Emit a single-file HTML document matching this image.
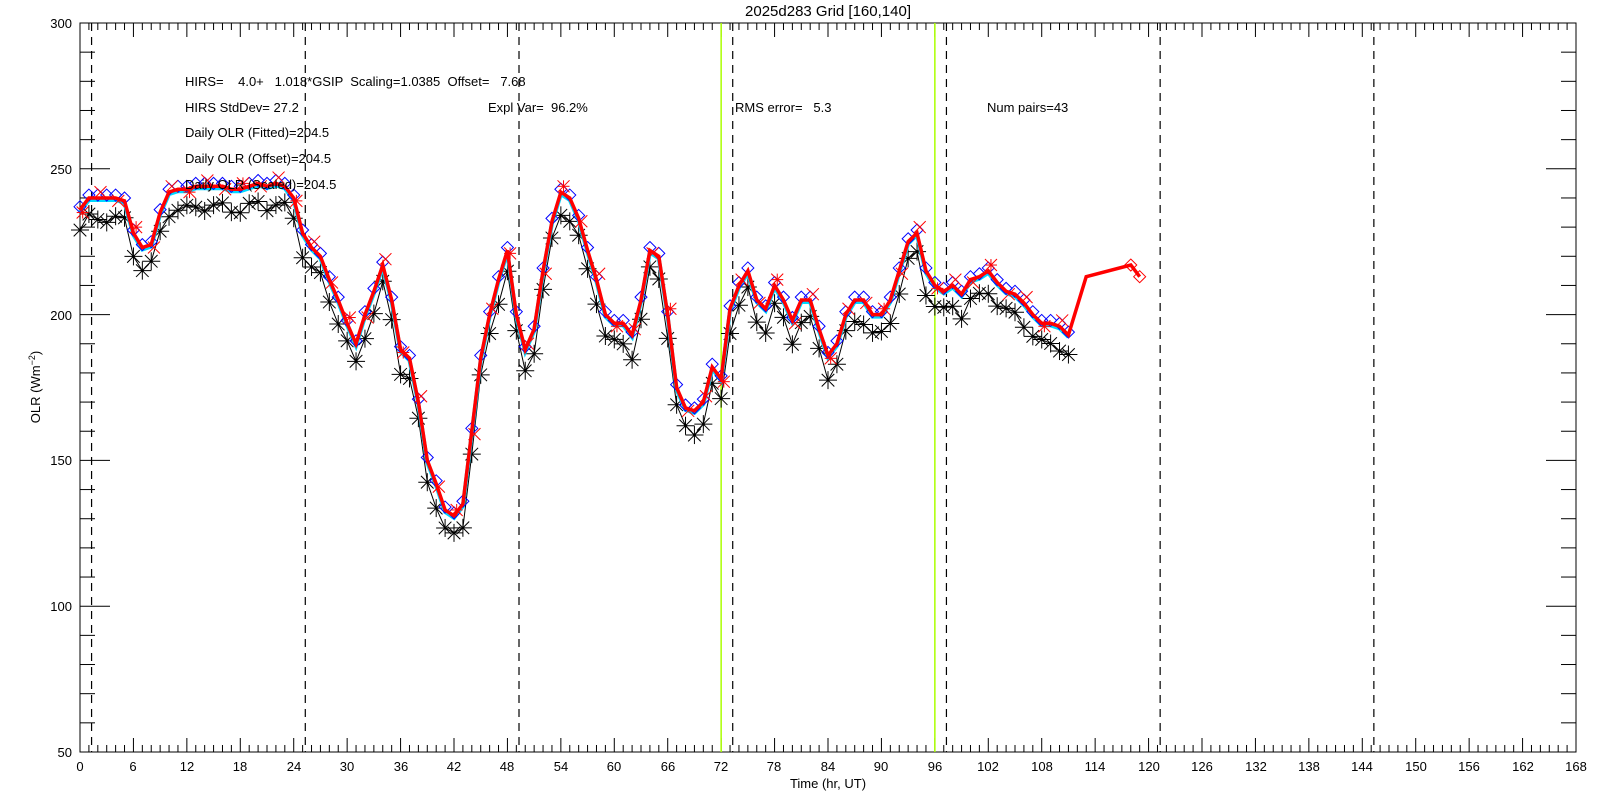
<!DOCTYPE html>
<html><head><meta charset="utf-8"><style>
body{margin:0;background:#fff}
svg{display:block}
text{font-family:"Liberation Sans",sans-serif;font-size:13px;fill:#000;white-space:pre}
</style></head><body>
<svg id="s" width="1600" height="800" viewBox="0 0 1600 800" xmlns="http://www.w3.org/2000/svg" xml:space="preserve">
<rect width="1600" height="800" fill="#fff"/>
<g id="g"></g>
<text x="828" y="16" text-anchor="middle" style="font-size:15px">2025d283 Grid [160,140]</text>
<text x="185" y="86">HIRS=    4.0+   1.018*GSIP  Scaling=1.0385  Offset=   7.68</text>
<text x="185" y="112">HIRS StdDev= 27.2</text>
<text x="488" y="112">Expl Var=  96.2%</text>
<text x="735" y="112">RMS error=   5.3</text>
<text x="987" y="112">Num pairs=43</text>
<text x="185" y="137">Daily OLR (Fitted)=204.5</text>
<text x="185" y="163">Daily OLR (Offset)=204.5</text>
<text x="185" y="189">Daily OLR (Scaled)=204.5</text>
<g text-anchor="end">
<text x="72" y="28">300</text><text x="72" y="174">250</text><text x="72" y="320">200</text>
<text x="72" y="465">150</text><text x="72" y="611">100</text><text x="72" y="757">50</text>
</g>
<g text-anchor="middle">
<text x="80" y="771">0</text><text x="133" y="771">6</text><text x="187" y="771">12</text><text x="240" y="771">18</text><text x="294" y="771">24</text><text x="347" y="771">30</text><text x="401" y="771">36</text><text x="454" y="771">42</text><text x="507" y="771">48</text><text x="561" y="771">54</text><text x="614" y="771">60</text><text x="668" y="771">66</text><text x="721" y="771">72</text><text x="774" y="771">78</text><text x="828" y="771">84</text><text x="881" y="771">90</text><text x="935" y="771">96</text><text x="988" y="771">102</text><text x="1042" y="771">108</text><text x="1095" y="771">114</text><text x="1149" y="771">120</text><text x="1202" y="771">126</text><text x="1256" y="771">132</text><text x="1309" y="771">138</text><text x="1362" y="771">144</text><text x="1416" y="771">150</text><text x="1469" y="771">156</text><text x="1523" y="771">162</text><text x="1576" y="771">168</text>
<text x="828" y="788">Time (hr, UT)</text>
</g>
<text transform="translate(40,387) rotate(-90)" text-anchor="middle">OLR (Wm<tspan dy="-5" style="font-size:9px">−2</tspan><tspan dy="5">)</tspan></text>
</svg>
<script>
const L=80,R=1576,T=23,B=752;
const X=h=>L+h*(R-L)/168, Y=v=>B-(v-50)*(B-T)/250;
let s='';
const ln=(a,b,c,d,col,w,da)=>{s+=`<line x1="${a}" y1="${b}" x2="${c}" y2="${d}" stroke="${col}" stroke-width="${w||1}"${da?` stroke-dasharray="${da}"`:''}/>`;};
for(let h=0;h<=168;h++){const x=X(h),len=h%6==0?14:7;ln(x,B,x,B-len,'#000');ln(x,T,x,T+len,'#000');}
for(let v=50;v<=300;v+=10){const y=Y(v),len=v%50==0?30:15;ln(L,y,L+len,y,'#000');ln(R,y,R-len,y,'#000');}
s+=`<rect x="${L}" y="${T}" width="${R-L}" height="${B-T}" fill="none" stroke="#000"/>`;
for(let k=0;k<7;k++){const x=X(1.3+24*k);ln(x,T,x,B,'#000',1.2,'8,6');}
ln(X(72),T,X(72),B,'#aaff00',1.5);ln(X(96),T,X(96),B,'#aaff00',1.5);
const red=[236,240,240,240,240,239,228,223,224,235,242,243,243,244,244,244,244,243,243,244,245,244,245,244,240,228,223,220,212,205,197,190,200,208,217,205,188,185,170,150,142,133,131,135,160,185,200,212,222,200,188,195,215,232,242,240,233,222,212,200,197,197,193,205,222,220,200,175,168,167,170,182,178,202,210,215,205,202,210,205,198,205,205,195,186,190,200,205,205,200,200,205,215,225,228,215,210,208,210,207,212,213,215,211,208,207,204,200,197,197,196,193];
const pts=red.map((v,i)=>[i,v]);
const ext=[[112,195],[113,213],[118,217],[119,213]];
const path=(p,dy)=>p.map(q=>X(q[0]).toFixed(1)+','+(Y(q[1])+dy).toFixed(1)).join(' ');
const blk=pts.map(q=>[q[0],q[1]-7+Math.sin(q[0]*1.7)*1.5]);
s+=`<polyline points="${path(blk,0)}" fill="none" stroke="#000" stroke-width="1"/>`;
blk.forEach((q,i)=>{const x=X(q[0]),y=Y(q[1]),r=9;ln(x-r,y,x+r,y,'#000');ln(x,y-r,x,y+r,'#000');ln(x-r*.7,y-r*.7,x+r*.7,y+r*.7,'#000');ln(x-r*.7,y+r*.7,x+r*.7,y-r*.7,'#000');s+=`<circle cx="${x}" cy="${y}" r="1.5"/>`;});
s+=`<polyline points="${path(pts,2)}" fill="none" stroke="#00d8ff" stroke-width="4"/>`;
s+=`<polyline points="${path(pts,1)}" fill="none" stroke="#0000ff" stroke-width="1"/>`;
pts.forEach(q=>{const x=X(q[0]),y=Y(q[1]+1),r=6;s+=`<polygon points="${x},${y-r} ${x+r},${y} ${x},${y+r} ${x-r},${y}" fill="none" stroke="#0000ff" stroke-width="1"/>`;});
s+=`<polyline points="${path(pts.concat(ext.slice(1)),0)}" fill="none" stroke="#ff0000" stroke-width="3.5"/>`;
pts.forEach((q,i)=>{if(i%2)return;const x=X(q[0]+0.3),y=Y(q[1]+(i%4?2:-1)),r=6;ln(x-r,y-r,x+r,y+r,'#ff0000');ln(x-r,y+r,x+r,y-r,'#ff0000');if(i%3==0){ln(x-r,y,x+r,y,'#ff0000');ln(x,y-r,x,y+r,'#ff0000');}});
ext.slice(2).forEach(q=>{const x=X(q[0]),y=Y(q[1]),r=6;s+=`<polygon points="${x},${y-r} ${x+r},${y} ${x},${y+r} ${x-r},${y}" fill="none" stroke="#ff0000"/>`;});
document.getElementById('g').innerHTML=s;
</script>
</body></html>
